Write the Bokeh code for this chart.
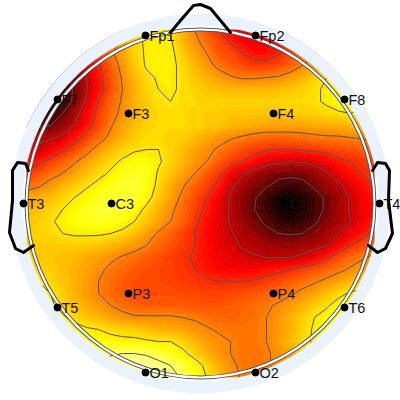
import numpy as np
from bokeh.plotting import figure
from bokeh.models import Range1d
from bokeh.core.properties import value
from bokeh.embed import file_html
from bokeh.resources import INLINE

# Heat values (percent of the colour scale) on a 12 px lattice.
x_cells = [26,38,50,62,74,86,98,110,122,134,146,158,170,182,194,206,218,230,242,254,266,278,290,302,314,326,338,350,362,374]
y_cells = [29,41,53,65,77,89,101,113,125,137,149,161,173,185,197,209,221,233,245,257,269,281,293,305,317,329,341,353,365,377]
r029 = [70,70,70,70,70,70,70,60,45,38,32,30,30,36,44,52,58,62,66,65,64,60,55,50,45,40,40,40,40,40]
r041 = [70,70,70,70,70,70,70,52,38,31,28,27,28,36,42,47,53,59,64,66,66,62,56,50,45,40,40,40,40,40]
r053 = [90,90,90,90,80,65,56,46,39,32,28,27,27,33,39,44,51,53,58,62,62,59,54,49,45,40,38,36,36,36]
r065 = [95,95,95,88,80,69,59,50,41,34,28,27,27,31,36,41,46,50,53,55,55,53,49,44,40,37,33,30,30,30]
r077 = [98,98,100,92,82,72,61,52,43,36,31,28,28,30,34,37,40,43,45,45,44,43,40,37,33,29,27,26,26,26]
r089 = [98,95,100,95,84,73,62,53,44,37,32,29,28,30,32,34,35,36,36,36,36,35,34,32,30,28,26,27,27,27]
r101 = [85,95,100,96,83,70,58,49,43,37,33,30,29,30,31,32,32,32,32,32,32,32,31,31,30,28,25,24,27,27]
r113 = [80,92,95,86,76,65,55,47,42,37,34,31,30,31,32,33,33,34,34,34,34,34,33,33,32,31,30,29,30,30]
r125 = [80,88,86,79,71,62,54,45,39,35,32,31,31,31,32,33,34,36,37,38,39,39,39,39,38,38,37,36,35,35]
r137 = [72,74,73,70,62,55,48,42,37,33,31,31,32,33,35,38,41,43,45,47,48,48,48,47,46,45,45,44,43,42]
r149 = [68,70,66,60,54,47,41,36,32,30,29,29,32,35,39,42,45,49,52,55,57,58,58,57,56,55,53,52,50,49]
r161 = [62,60,55,50,45,40,35,31,28,25,25,28,32,36,41,44,50,55,58,63,68,70,71,71,69,65,60,58,56,54]
r173 = [57,52,47,44,39,35,31,28,24,22,23,30,34,39,44,50,56,64,71,76,80,83,83,82,79,73,67,62,58,56]
r185 = [48,45,41,37,33,30,27,24,21,20,24,31,38,43,49,54,60,70,76,82,85,89,92,90,84,78,74,68,62,58]
r197 = [39,38,35,32,29,26,23,21,20,21,26,33,39,46,52,58,65,73,80,85,92,97,99,96,91,84,77,71,65,60]
r209 = [36,35,32,29,26,23,21,20,21,25,31,37,42,48,54,60,66,73,80,86,92,97,99,96,91,84,77,71,65,62]
r221 = [34,33,30,27,25,23,22,23,25,29,34,39,44,49,56,62,67,73,78,83,88,93,95,93,88,81,76,72,65,59]
r233 = [33,32,31,29,28,28,28,29,31,35,40,45,49,54,58,63,67,71,75,78,83,86,87,86,81,77,72,66,61,56]
r245 = [34,33,33,33,33,33,34,36,38,41,44,48,51,55,58,62,66,69,73,75,77,78,78,77,75,72,65,58,53,49]
r257 = [32,33,34,35,36,38,40,42,45,47,50,52,54,56,59,62,65,67,69,71,72,72,72,70,66,60,53,48,45,42]
r269 = [30,31,33,35,37,39,42,46,48,50,52,53,54,56,58,61,63,64,64,64,62,60,58,55,52,49,46,43,40,38]
r281 = [28,29,31,34,37,40,44,47,50,52,53,53,54,55,56,57,58,58,58,57,55,53,50,47,45,42,39,36,33,30]
r293 = [26,27,29,33,37,40,44,48,50,52,52,52,52,53,53,54,54,53,52,51,49,47,45,42,39,35,31,28,26,25]
r305 = [24,25,28,31,35,38,41,44,47,49,50,50,50,50,51,51,51,50,49,47,45,43,40,37,33,30,26,23,22,22]
r317 = [24,24,25,28,31,34,36,39,41,43,43,43,43,44,45,47,48,49,48,47,44,41,37,33,29,26,23,21,20,20]
r329 = [20,20,21,23,26,28,29,31,32,33,35,37,38,39,41,43,45,46,46,46,44,41,37,32,28,25,23,20,20,20]
r341 = [17,17,17,19,21,23,25,26,27,27,28,29,29,32,36,40,42,44,46,46,44,40,36,31,28,25,22,20,20,20]
r353 = [17,17,17,17,17,18,17,16,15,15,16,19,23,27,32,37,41,44,46,47,45,42,38,34,30,27,27,27,27,27]
r365 = [14,14,14,14,14,14,14,11,10,10,10,12,15,19,25,31,37,42,46,47,45,42,38,38,38,38,38,38,38,38]
r377 = [9,9,9,9,9,9,9,9,9,9,9,10,12,16,23,29,35,41,45,47,45,45,45,45,45,45,45,45,45,45]
heat_rows = [r029,r041,r053,r065,r077,r089,r101,r113,r125,r137,r149,r161,r173,r185,r197,
             r209,r221,r233,r245,r257,r269,r281,r293,r305,r317,r329,r341,r353,r365,r377]
contour_levels = [15,29,44,58,72,86]

site_names = ["Fp1","Fp2","F7","F3","F4","F8","T3","C3","C4","T4","T5","P3","P4","T6","O1","O2"]
site_x = [145,255,57,128,273,344,23,111,284,379,57,128,273,344,145,255]
site_y = [35,35,99,113,113,99,203,203,203,203,307,293,293,307,372,372]

nose_x = [170,180,193,200,210,230]
nose_y = [32,20,5,4,8,32]
lear_x = [28,25,17,12,12,9,15,23,33]
lear_y = [170,163,162,170,200,232,248,252,245]
rear_x = [372,377,385,389,388,392,385,377,368]
rear_y = [170,162,163,170,200,233,248,252,245]

CX, CY = 200, 400 - 203
BANDS = 64

def hot_r_at(v):
    t = 1 - v
    r = min(1, t / 0.365)
    g = min(1, max(0, (t - 0.365) / 0.381))
    b = min(1, max(0, (t - 0.746) / 0.254))
    return "#%02x%02x%02x" % (int(r*255), int(g*255), int(b*255))

def flip(a):
    return [400 - v for v in a]

z = np.array(heat_rows[::-1], dtype=float)
ys = np.array(flip(y_cells)[::-1], dtype=float)
xs = np.array(x_cells, dtype=float)

p = figure(width=400, height=400, x_range=Range1d(0, 400), y_range=Range1d(0, 400),
           output_backend="svg", toolbar_location=None, min_border=0)
p.axis.visible = False
p.grid.visible = False
p.outline_line_color = None
p.background_fill_color = None
p.border_fill_color = None

band_levels = list(np.linspace(0, 100, BANDS + 1))
band_colors = [hot_r_at((i + 0.5) / BANDS) for i in range(BANDS)]
edge_colors = [hot_r_at(i / BANDS) for i in range(BANDS + 1)]
p.contour(xs, ys, z, band_levels, fill_color=band_colors, line_color=edge_colors, line_width=1)
p.contour(xs, ys, z, contour_levels, fill_color=None, line_color="#555555", line_width=1)

# blue scalp band, then white page outside it
p.annulus(x=CX, y=CY, inner_radius=178, outer_radius=190, fill_color="#eaf3fd", line_color=None)
p.annulus(x=CX, y=CY, inner_radius=190, outer_radius=270, fill_color="white", line_color=None)

# head outline: thin dark edges with a white core
p.annulus(x=CX, y=CY, inner_radius=172, outer_radius=176, fill_color="#555555", line_color=None)
p.annulus(x=CX, y=CY, inner_radius=173, outer_radius=175, fill_color="white", line_color=None)

for xx, yy in ((nose_x, nose_y), (lear_x, lear_y), (rear_x, rear_y)):
    p.line(xx, flip(yy), line_color="black", line_width=3, line_join="round", line_cap="round")

p.scatter(site_x, flip(site_y), size=7, color="black")
p.text([v + 4 for v in site_x], flip(site_y), text=site_names,
       text_font=value("Liberation Sans"), text_font_size="14.5px",
       text_color="#111111", text_baseline="middle", text_align="left")

open("out.html", "w").write(file_html(p, INLINE))
